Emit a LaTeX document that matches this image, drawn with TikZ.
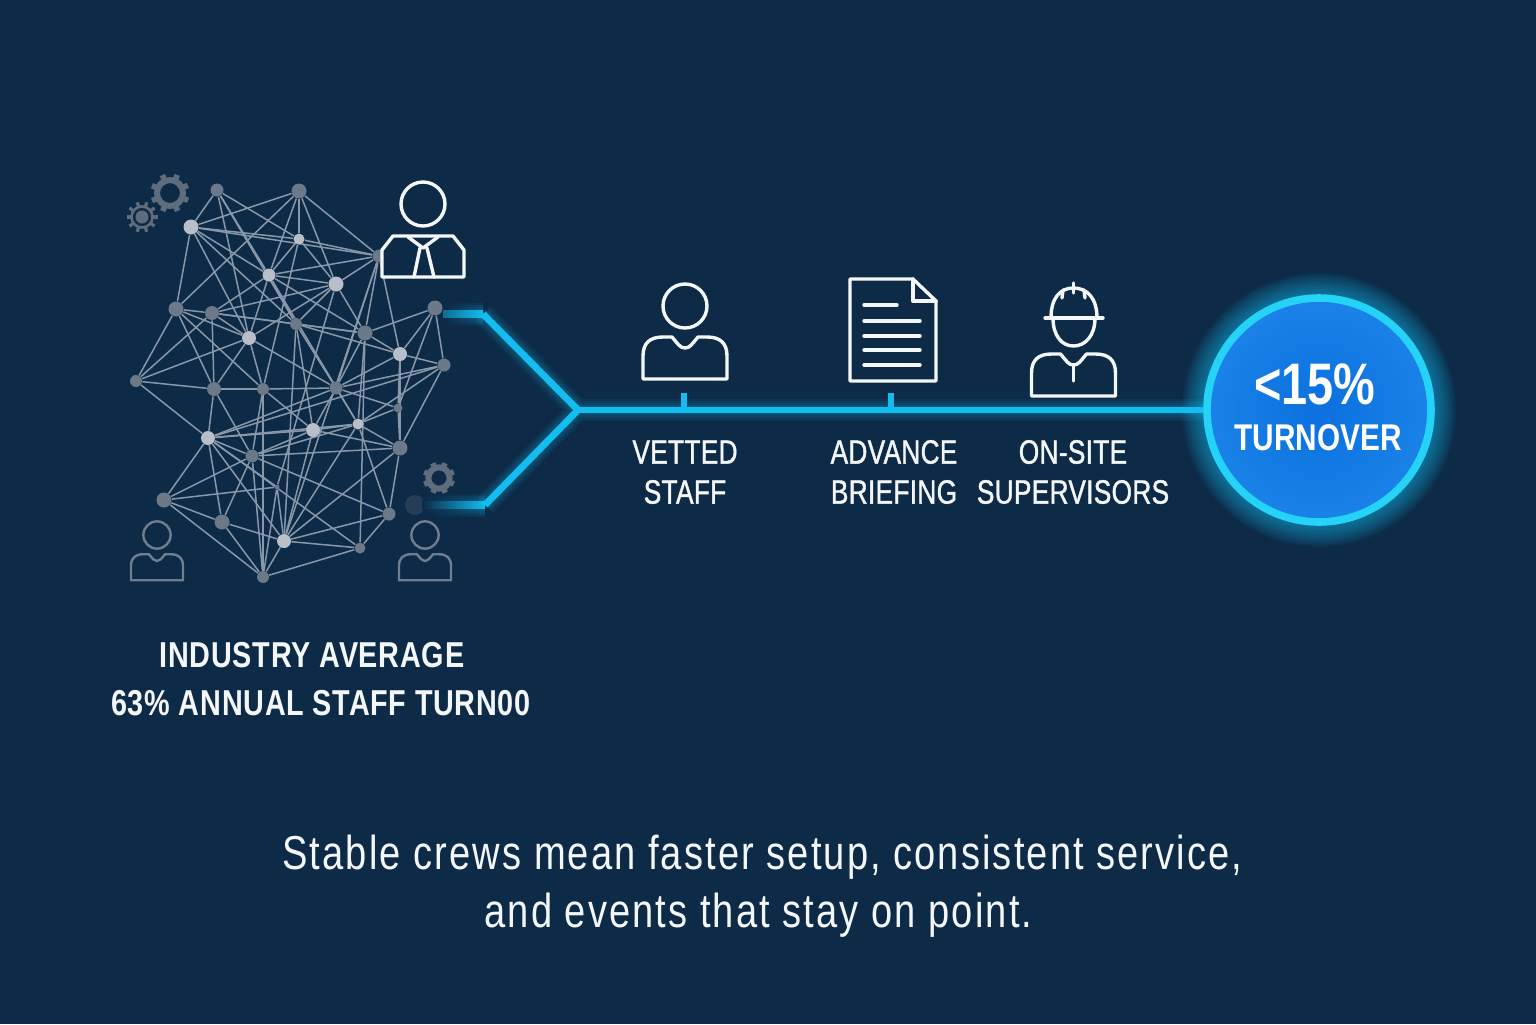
\documentclass[tikz,border=0pt]{standalone}
\usepackage{fontspec}
\setmainfont[FakeStretch=0.80]{Liberation Sans}
\newfontfamily\capsfont[FakeStretch=0.78,FakeBold=1.2,LetterSpace=1.0]{Liberation Sans}
\newfontfamily\boldcaps[FakeStretch=0.80,LetterSpace=2]{Liberation Sans Bold}
\newfontfamily\closefont[FakeStretch=0.80,LetterSpace=4.4]{Liberation Sans}
\usetikzlibrary{backgrounds}
\definecolor{pagebg}{HTML}{0D2A47}
\definecolor{lineblue}{HTML}{12BDF0}
\definecolor{ringcyan}{HTML}{25D2F8}
\definecolor{discblue}{HTML}{0B70DE}
\definecolor{disclight}{HTML}{1A82E8}
\definecolor{netlight}{HTML}{B9BFC9}
\definecolor{netdark}{HTML}{6C7989}
\definecolor{netline}{HTML}{8998A9}
\definecolor{iconwhite}{HTML}{F4F7FA}
\definecolor{icongrey}{HTML}{717E8D}
\definecolor{geargrey}{HTML}{5F6C7C}
\tikzset{
    netnode/.style={circle,inner sep=0pt,draw=none},
    netedge/.style={netline,line width=0.75pt},
    iconline/.style={color=iconwhite,line width=1.7pt,line join=round,line cap=round},
    greyline/.style={color=icongrey,line width=1.2pt,line join=round},
    tick/.style={lineblue,line width=3.2pt},
    caps/.style={text=iconwhite,font=\capsfont\fontsize{16.8}{20}\selectfont},
    capsbold/.style={text=iconwhite,font=\boldcaps\fontsize{18}{20}\selectfont},
    pics/bodymark/.style={code={
        \draw[fill=pagebg] (-42,73) -- (-42,50) .. controls (-42,37) and (-35,31) .. (-22,31) -- (-13,31)
            .. controls (-7,38) and (-5,42) .. (0,42) .. controls (5,42) and (7,38) .. (13,31) -- (22,31)
            .. controls (35,31) and (42,37) .. (42,50) -- (42,73) -- cycle;
    }},
    pics/personmark/.style={code={
        \draw (0,0) circle (22);
        \pic[transform shape] {bodymark};
    }},
    pics/gearmark/.style={code={
        \foreach \a in {0,45,...,315} \draw[line width=2.8pt] (\a+22:14) -- (\a+22:19.5);
        \draw[line width=3pt] (0,0) circle (13);
    }}
}
\begin{document}
\begin{tikzpicture}[x=0.5pt,y=-0.5pt]
    \useasboundingbox (0,0) rectangle (1536,1024);
    \begin{scope}[on background layer]
    \fill[pagebg] (0,0) rectangle (1536,1024);
    \end{scope}

    % network on the left
    \foreach \id/\px/\py/\rr/\col in {
        1/217/190/6.5/netdark, 2/299/191/7.5/netdark, 3/191/227/7.5/netlight, 4/299/239/5.5/netlight,
        5/379/256/6.5/netdark, 6/269/275/6.5/netlight, 7/336/284/7.5/netlight, 8/176/309/7.5/netdark,
        9/212/313/7/netdark, 10/296/324/6/netdark, 11/249/338/7/netlight, 12/365/333/7.5/netdark,
        13/435/308/7.5/netdark, 14/400/354/7/netlight, 15/444/365/6.5/netdark, 16/136/381/6/netdark,
        17/214/389/7/netdark, 18/263/389/6/netdark, 19/336/388/6.5/netdark, 20/398/408/4.5/netdark,
        21/208/438/7/netlight, 22/313/430/7/netlight, 23/358/424/5.5/netlight, 24/252/456/6.5/netdark,
        25/400/448/7.5/netdark, 26/277/487/2.5/netdark, 27/164/500/7.5/netdark, 28/222/522/7.5/netdark,
        29/389/514/6.5/netdark, 30/284/541/7/netlight, 31/360/548/5.5/netdark, 32/263/577/6/netdark}
        \node[netnode,fill=\col,minimum size=\rr pt] (n\id) at (\px,\py) {};

    \begin{scope}[on background layer]
    \foreach \a/\b in {
        1/3,1/4,1/6,1/10,1/11,2/3,2/4,2/5,2/6,2/7,2/8,3/4,3/5,3/6,3/8,3/10,3/11,
        4/5,4/6,4/7,4/18,5/6,5/7,5/12,5/14,5/19,5/30,6/7,6/9,6/10,6/11,6/12,6/23,
        7/9,7/10,7/11,7/12,7/26,8/9,8/11,8/16,8/17,8/18,9/10,9/11,9/12,9/16,9/17,
        10/12,10/14,10/19,10/22,10/30,11/16,11/17,11/18,11/19,12/13,12/14,12/19,12/23,12/31,
        13/14,13/15,13/20,14/15,14/19,14/20,14/25,15/21,15/23,15/25,15/19,16/17,16/21,
        17/18,17/21,17/24,18/19,18/22,18/24,18/32,19/20,19/21,19/22,19/23,20/23,20/25,
        21/22,21/23,21/24,21/26,21/27,21/28,21/31,21/30,22/23,22/24,22/25,22/30,
        23/24,23/25,23/29,23/30,24/25,24/27,24/28,24/29,24/32,25/29,25/30,
        26/27,26/30,26/32,27/28,27/32,28/30,28/32,29/30,29/31,30/31,30/32,31/32}
        \draw[netedge] (n\a) -- (n\b);
    \end{scope}

    % gears and grey people
    \pic[color=geargrey] at (170,193) {gearmark};
    \pic[color=geargrey,scale=0.82] at (439,478) {gearmark};
    \begin{scope}[shift={(142,217)},color=geargrey]
        \foreach \a in {0,36,...,324} \draw[line width=1.6pt] (\a:10) -- (\a:15.5);
        \draw[line width=1.3pt] (0,0) circle (10.5);
        \fill (0,0) circle (6.5);
    \end{scope}
    \pic[greyline,scale=0.62] at (157,535) {personmark};
    \pic[greyline,scale=0.62] at (425,535) {personmark};

    % suit person
    \begin{scope}[iconline,shift={(423,204)}]
        \draw (0,0) circle (22);
        \draw[fill=pagebg] (-41,73) -- (-41,46) -- (-30,32) -- (30,32) -- (41,46) -- (41,73) -- cycle;
        \draw (-15,33) -- (0,44) -- (15,33);
        \draw (-3,44) -- (-9,73);
        \draw (4,44) -- (11,73);
    \end{scope}

    % fork and line into the disc
    \coordinate (upstart) at (443,314);
    \coordinate (upbend) at (483,314);
    \coordinate (lowstart) at (422,505);
    \coordinate (lowbend) at (485,505);
    \coordinate (fork) at (578,410);
    \coordinate (discmid) at (1319,410);
    \foreach \w in {22,18,14,10,7}
        \draw[lineblue,line width=\w*0.5pt,opacity=0.07,line join=miter]
            (upbend) -- (fork) -- (lowbend) (fork) -- (discmid);
    \foreach \r in {137,135,133,131,129,127,125,123,121,119,117}
        \fill[lineblue,opacity=0.06] (discmid) circle (\r);
    \node[netnode,fill=geargrey,opacity=0.3,minimum size=10pt] (lowghost) at (415,505) {};
    \foreach \w in {5.5,4.5,3.5,2.5} {
        \shade[left color=pagebg,right color=lineblue,opacity=0.1] ([yshift=\w pt]lowstart) rectangle ([yshift=-\w pt]lowbend);
        \shade[left color=pagebg,right color=lineblue,opacity=0.1] ([yshift=\w pt]upstart) rectangle ([yshift=-\w pt]upbend);
    }
    \shade[left color=pagebg,right color=lineblue] ([yshift=1.7pt]lowstart) rectangle ([yshift=-1.7pt]lowbend);
    \shade[left color=lineblue!45!pagebg,right color=lineblue] ([yshift=1.7pt]upstart) rectangle ([yshift=-1.7pt]upbend);
    \node[circle,minimum size=112pt,inner sep=0pt,draw=ringcyan,line width=3.8pt,inner color=discblue,outer color=disclight] (disc) at (discmid) {};
    \draw[lineblue,line width=3.4pt,line join=miter] (upbend) -- (fork) -- (lowbend);
    \draw[lineblue,line width=3.4pt] (fork) -- (disc);

    % three icons on the line
    \coordinate (tickvet) at (684,393);
    \coordinate (tickdoc) at (891,393);
    \draw[tick] (tickvet) -- (tickvet |- fork);
    \draw[tick] (tickdoc) -- (tickdoc |- fork);
    \pic[iconline] at (685,306) {personmark};

    \begin{scope}[iconline]
        \draw (850,279) -- (913,279) -- (936,301) -- (936,381) -- (850,381) -- cycle;
        \draw (913,279) -- (913,301) -- (936,301);
        \draw (864,305) -- (897,305);
        \foreach \ly in {321,336,350,365} \draw (864,\ly) -- (920,\ly);
    \end{scope}

    \pic[iconline] at (1073.5,323) {bodymark};
    \begin{scope}[iconline]
        \draw (1045,318) -- (1103,318);
        \draw (1051,318) .. controls (1051,298) and (1060,288) .. (1073.5,288) .. controls (1087,288) and (1097,298) .. (1097,318);
        \draw (1053,318) .. controls (1053,336) and (1062,346) .. (1073.5,346) .. controls (1085,346) and (1095,336) .. (1095,318);
        \draw (1073.5,283) -- (1073.5,293);
        \draw (1063,290) -- (1062,298);
        \draw (1084,290) -- (1085,298);
        \draw (1073.5,366) -- (1073.5,381);
    \end{scope}

    % texts
    \begin{scope}[inner sep=0pt]
    \node[caps] (vetted) at (685,452) {VETTED};
    \node[caps] (staff) at (685,492) {STAFF};
    \node[caps] (advance) at (894,452) {ADVANCE};
    \node[caps] (briefing) at (894,492) {BRIEFING};
    \node[caps] (onsite) at (1073,452) {ON-SITE};
    \node[caps] (supers) at (1073,492) {SUPERVISORS};
    \node[capsbold] (industry) at (312,655) {INDUSTRY AVERAGE};
    \node[capsbold] (annual) at (321,703) {63\% ANNUAL STAFF TURN00};
    \node[text=white,font=\bfseries\fontsize{29.3}{32}\selectfont] (goalpct) at (1315,384) {<15\%};
    \node[text=white,font=\bfseries\fontsize{18.6}{20}\selectfont] (goalword) at (1318,438) {TURNOVER};
    \node[text=iconwhite,font=\closefont\fontsize{23.8}{29}\selectfont] (closeone) at (762.5,857) {Stable crews mean faster setup, consistent service,};
    \node[text=iconwhite,font=\closefont\fontsize{23.8}{29}\selectfont] (closetwo) at (758.5,915) {and events that stay on point.};
    \end{scope}
\end{tikzpicture}
\end{document}
